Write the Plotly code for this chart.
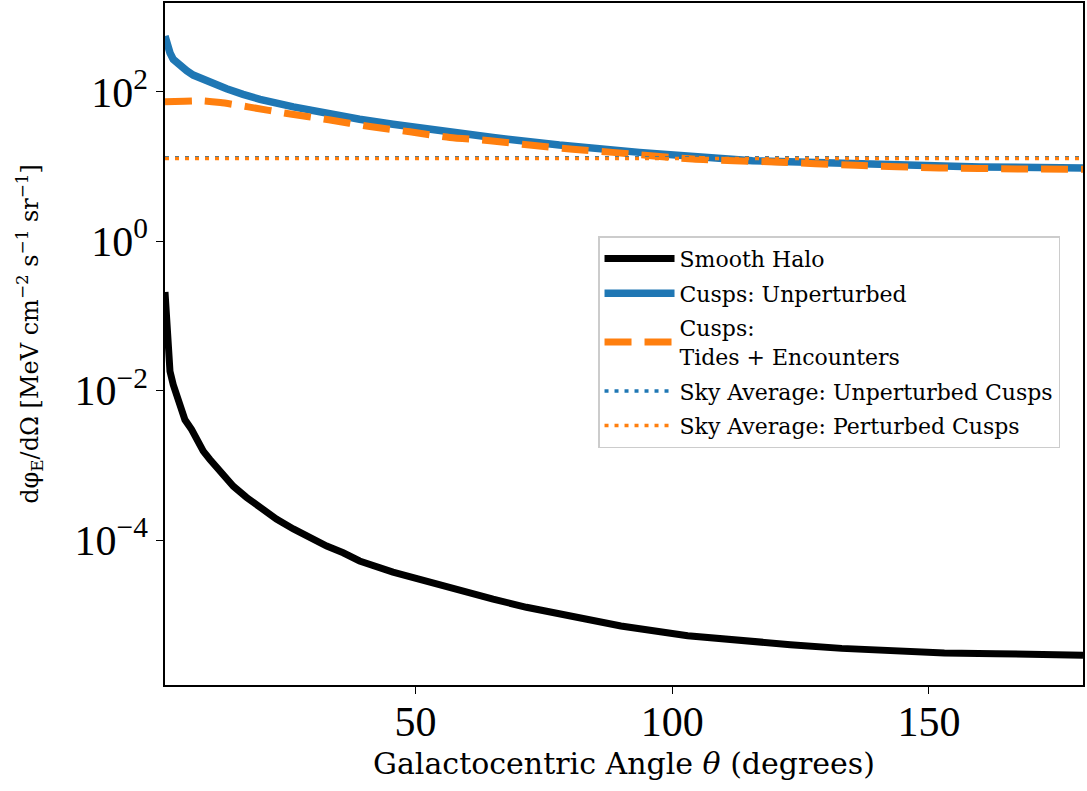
import plotly.graph_objects as go

# Smooth halo emission vs. galactocentric angle (degrees)
theta_halo = [1.2, 1.53, 1.84, 2.17, 2.81, 3.48, 4.12, 5.09, 6.39, 7.37, 8.65,
              9.95, 11.9, 14.5, 17.1, 19.7, 22.9, 26.2, 29.4, 32.7, 35.9, 39.1,
              45.6, 50.2, 55.3, 65.1, 71.6, 78.0, 90, 103, 113, 123, 133, 143,
              153, 163, 172, 180]
flux_halo = [0.209, 0.0832, 0.0302, 0.0182, 0.0120, 0.00832, 0.00589, 0.00407,
             0.00302, 0.00224, 0.00155, 0.00120, 8.32e-4, 5.25e-4, 3.72e-4,
             2.69e-4, 1.91e-4, 1.41e-4, 1.07e-4, 8.32e-5, 6.76e-5, 5.25e-5,
             3.72e-5, 3.02e-5, 2.45e-5, 1.62e-5, 1.26e-5, 1.02e-5, 7.08e-6,
             5.25e-6, 4.47e-6, 3.98e-6, 3.55e-6, 3.24e-6, 3.09e-6, 3.02e-6,
             2.95e-6, 2.88e-6]

# Unperturbed cusps
theta_unpert = [1.2, 1.53, 2.17, 2.81, 4.12, 5.42, 6.7, 9.95, 13.2, 16.4, 19.7,
                26.2, 32.7, 39.1, 45.6, 52.1, 65.1, 78, 93.6, 115.6, 141.7, 160,
                180]
flux_unpert = [560, 454, 333, 272, 223, 192, 168, 133, 110, 92.7, 79.5,
               63, 51.3, 43, 36.9, 31.6, 24.5, 19.4, 15.5, 12, 10.4, 9.9, 9.6]

# Cusps after tides + encounters
theta_tides = [1.2, 5, 8.6, 12, 17.4, 25.3, 33.1, 41.1, 48.9, 56.7, 64.5, 72.2,
               80.6, 88.4, 104, 120, 135.8, 152, 167.5, 180]
flux_tides = [74, 75, 76, 72, 63, 51, 42.3, 34.4, 29.2, 24.5, 22.2, 19.4,
              17.1, 15.5, 12.6, 11.5, 10.4, 9.6, 9.3, 9.2]

# Sky-averaged values
sky_avg_unpert = 13.1
sky_avg_pert = 12.8

theta_range = [1.2, 180.0]
xtick_vals = [50, 100, 150]
ytick_vals = [1e-4, 1e-2, 1e0, 1e2]
ytick_text = ["10<sup>−4</sup>", "10<sup>−2</sup>", "10<sup>0</sup>", "10<sup>2</sup>"]

BLUE = "#1f77b4"
ORANGE = "#ff7f0e"
TICK_FONT = "Liberation Serif"
TEXT_FONT = "DejaVu Serif"

fig = go.Figure()

fig.add_trace(go.Scatter(
    x=theta_halo, y=flux_halo, mode="lines", name="Smooth Halo", legendgroup="a",
    line=dict(color="black", width=7),
))
fig.add_trace(go.Scatter(
    x=theta_unpert, y=flux_unpert, mode="lines", name="Cusps: Unperturbed",
    legendgroup="b",
    line=dict(color=BLUE, width=7.5),
))
fig.add_trace(go.Scatter(
    x=theta_tides, y=flux_tides, mode="lines", legendgroup="c",
    name="Cusps:<br>Tides + Encounters",
    line=dict(color=ORANGE, width=7, dash="27px,13px", shape="spline", smoothing=0.6),
))
fig.add_trace(go.Scatter(
    x=theta_range, y=[sky_avg_unpert] * 2, mode="lines", legendgroup="d",
    name="Sky Average: Unperturbed Cusps",
    line=dict(color=BLUE, width=3.5, dash="4px,6px"),
))
fig.add_trace(go.Scatter(
    x=theta_range, y=[sky_avg_pert] * 2, mode="lines", legendgroup="e",
    name="Sky Average: Perturbed Cusps",
    line=dict(color=ORANGE, width=3.5, dash="4px,6px"),
))

axis_common = dict(
    showgrid=False, zeroline=False, showline=True, linecolor="black",
    linewidth=1.5, mirror=True, ticks="outside", ticklen=7, tickwidth=1.2,
    tickcolor="black", tickfont=dict(family=TICK_FONT, size=42, color="black"),
)

fig.update_layout(
    width=1087, height=791,
    margin=dict(l=165, r=4, t=1, b=106),
    plot_bgcolor="white", paper_bgcolor="white",
    font=dict(family=TEXT_FONT, color="black"),
    xaxis=dict(
        range=theta_range, tickvals=xtick_vals, ticklabelstandoff=-8,
        title=dict(text="Galactocentric Angle <i>θ</i> (degrees)",
                   font=dict(family=TEXT_FONT, size=30), standoff=9),
        **axis_common,
    ),
    yaxis=dict(
        type="log", range=[-5.94, 3.19], tickvals=ytick_vals, ticktext=ytick_text,
        **axis_common,
    ),
    legend=dict(
        x=0.4717, y=0.658, xanchor="left", yanchor="top",
        font=dict(family=TEXT_FONT, size=22, color="black"),
        bordercolor="#cccccc", borderwidth=1.5, bgcolor="rgba(255,255,255,0.8)",
        itemwidth=70, tracegroupgap=3, traceorder="grouped",
    ),
    annotations=[dict(
        text="dφ<sub>E</sub>/dΩ [MeV cm<sup>−2</sup> s<sup>−1</sup> sr<sup>−1</sup>]",
        xref="paper", yref="paper", x=-0.147, y=0.515, textangle=-90,
        showarrow=False, font=dict(family=TEXT_FONT, size=24, color="black"),
        xanchor="center", yanchor="middle",
    )],
)

fig.write_html("out.html")
